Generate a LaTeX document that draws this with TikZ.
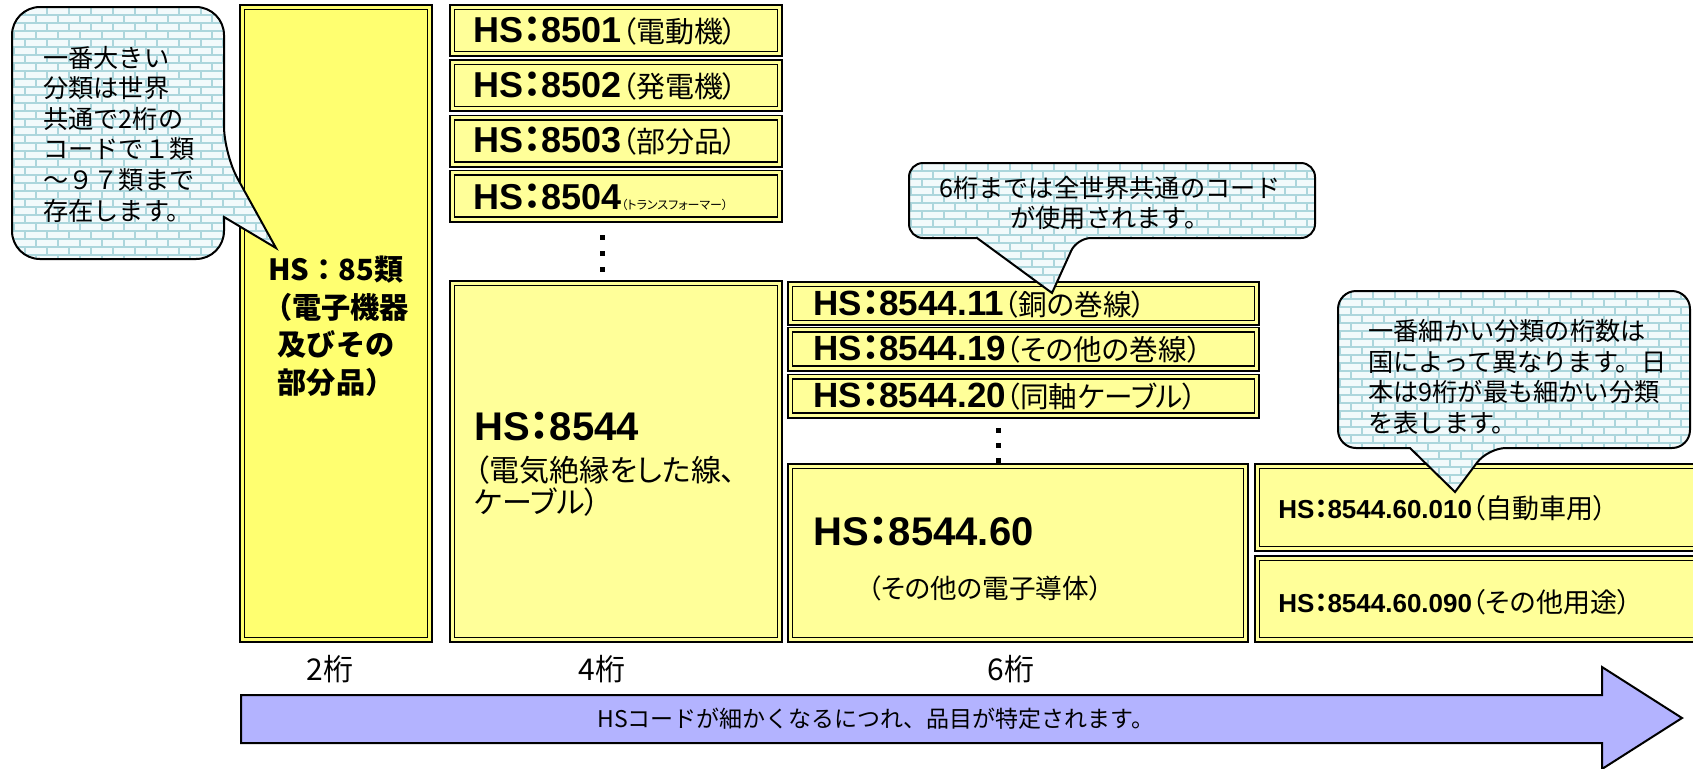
\documentclass[tikz,border=0pt]{standalone}
\usepackage{fontspec}
\setmainfont{Liberation Sans}
\newfontfamily\jp[RawFeature=+palt]{Noto Sans CJK JP}
\newfontfamily\jpm{Noto Sans CJK JP}
\usepackage{xcolor}
\usepackage{tikz}
\usetikzlibrary{positioning}

\definecolor{boxyellow}{RGB}{255,255,153}
\definecolor{deepyellow}{RGB}{255,255,112}
\definecolor{flowblue}{RGB}{179,179,255}
\definecolor{mortar}{RGB}{172,214,220}
\definecolor{brickfill}{RGB}{242,250,251}

\newcommand\hs[1]{{\bfseries HS{\jp ：}#1}}

\tikzset{bricks/.style n args={3}{path picture={
  \foreach \r in {0,...,#3}{
    \pgfmathsetmacro\ph{mod(\r,2)*5.5}
    \draw[mortar,line width=0.8pt] (#1-10,#2+\r*8) -- ++(520,0);
    \draw[mortar,line width=4pt,dash pattern=on 0.8pt off 10.2pt,dash phase=\ph pt] (#1-10,#2+\r*8+4) -- ++(520,0);
  }}}}

\begin{document}
\begin{tikzpicture}[x=0.5pt,y=-0.5pt,line join=miter]

\tikzstyle{hsbox}=[draw,line width=0.9pt,double=boxyellow,double distance=1.4pt,fill=boxyellow,inner sep=0pt]
\tikzstyle{txt}=[inner sep=0pt,anchor=west]
\tikzstyle{bubble}=[draw,line width=1pt,fill=brickfill]
\tikzstyle{note}=[inner sep=0pt,font=\jpm\fontsize{12.6}{15.3}\selectfont]
\tikzstyle{flow}=[draw,line width=1pt,fill=flowblue]

\useasboundingbox (0,0) rectangle (1693,768);

% 2 digits
\node[hsbox,fill=deepyellow,double=deepyellow,minimum width=93.8pt,minimum height=316.3pt] (b85) at (336,323.5) {};
\node[align=center,inner sep=0pt,font=\jpm\bfseries\fontsize{14.6}{18.8}\selectfont] (t85) at (336,326) {HS：85類\\（電子機器\\及びその\\部分品）};

% 4 digits
\foreach \n/\y in {8501/30.5,8502/85.5,8503/141,8504/196}
    \node[hsbox,minimum width=163.8pt,minimum height=23.3pt] (b\n) at (616,\y) {};
\foreach \n/\y/\fs/\s in {8501/31/14.5/電動機,8502/86/14.5/発電機,8503/141/14.5/部分品,8504/197/6/トランスフォーマー}
    \node[txt,font=\fontsize{18}{20}\selectfont] (t\n) at (473,\y) {\hs{\n}{\jp\fontsize{\fs}{\fs}\selectfont （{\s}）}};

\node[hsbox,minimum width=163.8pt,minimum height=178.3pt] (b8544) at (616,461.5) {};
\node[txt,font=\fontsize{20}{22}\selectfont] (t8544) at (474,426) {\hs{8544}};
\node[txt,align=left,font=\jp\fontsize{15}{16}\selectfont] (t8544d) at (474,486) {（電気絶縁をした線、\\ケーブル）};

% 6 digits
\foreach \i/\y in {a/303.5,b/349,c/396}
    \node[hsbox,minimum width=233.3pt,minimum height=19.3pt] (b6\i) at (1023.5,\y) {};
\foreach \i/\n/\y/\s in {a/8544.11/304/銅の巻線,b/8544.19/349/その他の巻線,c/8544.20/396/同軸ケーブル}
    \node[txt,font=\fontsize{17.5}{19}\selectfont] (t6\i) at (813,\y) {\hs{\n}{\jp\fontsize{14.3}{16}\selectfont （{\s}）}};

\node[hsbox,minimum width=227.8pt,minimum height=86.8pt] (b854460) at (1018,553) {};
\node[txt,font=\fontsize{20}{22}\selectfont] (t854460) at (813,531) {\hs{8544.60}};
\node[inner sep=0pt,font=\jp\fontsize{13.3}{15}\selectfont] (t854460d) at (985,588) {（その他の電子導体）};

% 9 digits
\node[hsbox,minimum width=224.8pt,minimum height=41.3pt] (b9a) at (1482,507.5) {};
\node[hsbox,minimum width=224.8pt,minimum height=40.8pt] (b9b) at (1482,599) {};
\node[txt,font=\fontsize{13}{15}\selectfont] (t9a) at (1278,508) {\hs{8544.60.010}{\jp\fontsize{13.5}{15}\selectfont （自動車用）}};
\node[txt,font=\fontsize{13}{15}\selectfont] (t9b) at (1278,602) {\hs{8544.60.090}{\jp\fontsize{13.5}{15}\selectfont （その他用途）}};

% dots
\foreach \x/\y in {602/237,602/253,602/269,998/430,998/445,998/460}
    \fill (\x-2.5,\y-2.5) rectangle (\x+2.5,\y+2.5);

% digit labels
\foreach \d/\x in {2/330,4/602,6/1011}
    \node[font=\jpm\fontsize{15}{17}\selectfont] (d\d) at (\x,669) {{\d}桁};

% arrow
\draw[flow] (241,695) -- (1602,695) -- (1602,667) -- (1682,718) -- (1602,769) -- (1602,743) -- (241,743) -- cycle;
\node[font=\jpm\fontsize{11.5}{14}\selectfont] (flowtxt) at (876,719) {HSコードが細かくなるにつれ、品目が特定されます。};

% callouts
\draw[bubble,bricks={12}{7}{32}] (118,7) [rounded corners=14pt] -- (224,7) -- (224,154) [sharp corners] -- (276,248) -- (224,217) [rounded corners=14pt] -- (224,259) -- (12,259) -- (12,7) -- cycle;
\node[note,align=left,anchor=west] (n2) at (43,134) {一番大きい\\分類は世界\\共通で2桁の\\コードで１類\\～９７類まで\\存在します。};

\draw[bubble,bricks={909}{163}{17}] (1100,163) [rounded corners=7pt] -- (1315,163) -- (1315,238) -- (1077,238) [sharp corners] -- (1052,293) -- (977,238) [rounded corners=7pt] -- (909,238) -- (909,163) -- cycle;
\node[note,align=center] (n6) at (1110,203) {6桁までは全世界共通のコード\\が使用されます。};

\draw[bubble,bricks={1338}{291}{26}] (1500,291) [rounded corners=9pt] -- (1690,291) -- (1690,448) -- (1488,448) [sharp corners] -- (1455,492) -- (1410,448) [rounded corners=9pt] -- (1338,448) -- (1338,291) -- cycle;
\node[note,align=left,anchor=west] (n9) at (1368,377) {一番細かい分類の桁数は\\国によって異なります。日\\本は9桁が最も細かい分類\\を表します。};

\end{tikzpicture}
\end{document}
